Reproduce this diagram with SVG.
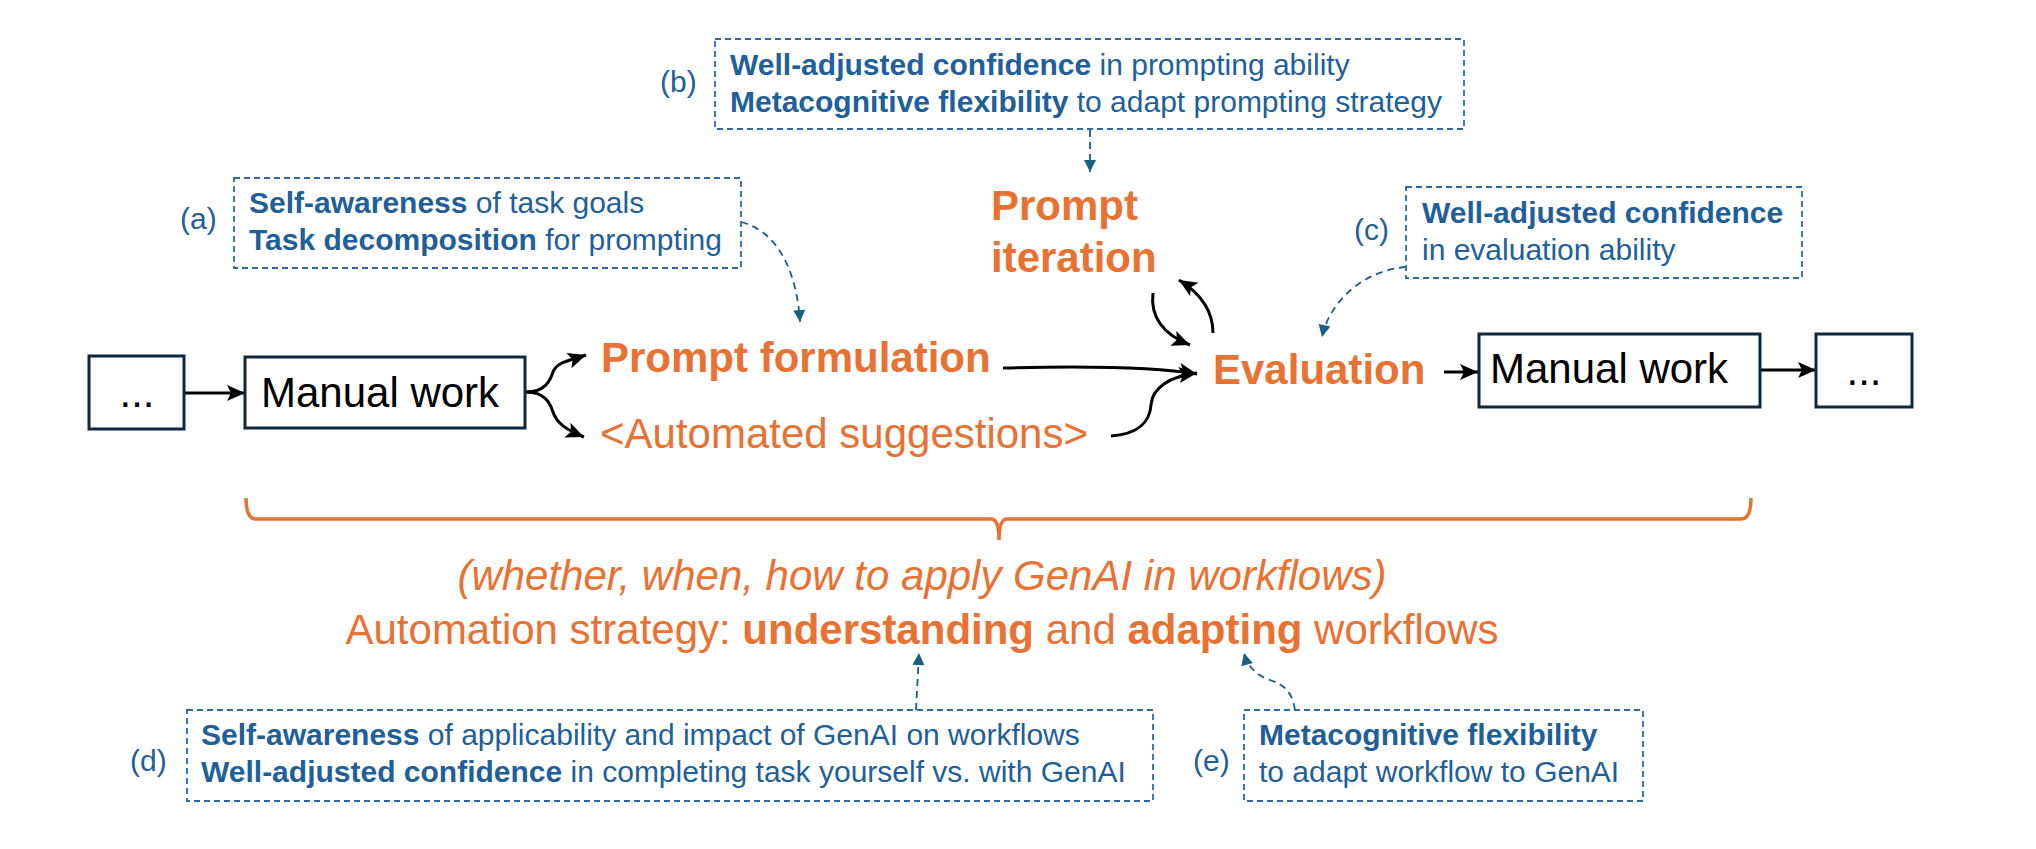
<svg xmlns="http://www.w3.org/2000/svg" width="2036" height="849" viewBox="0 0 2036 849">
<style>
text{font-family:"Liberation Sans",Arial,sans-serif;}
.or{fill:#E97132;}
.hd{font-size:42px;font-weight:bold;}
.big{font-size:42px;}
.bl{fill:#215F9A;font-size:30px;}
.b{font-weight:bold;}
.blk{fill:#000;font-size:42px;}
.box{fill:#fff;stroke:#0E2841;stroke-width:3;}
.dbox{fill:none;stroke:#2A6AA6;stroke-width:1.8;stroke-dasharray:6 4;}
.arr{fill:none;stroke:#000;stroke-width:3;marker-end:url(#ah);}
.darr{fill:none;stroke:#1B5E84;stroke-width:1.8;stroke-dasharray:7 5;marker-end:url(#dh);}
.brace{fill:none;stroke:#E97132;stroke-width:3.5;}
</style>
<defs>
<marker id="ah" markerUnits="userSpaceOnUse" markerWidth="20" markerHeight="20" viewBox="0 0 20 20" refX="19" refY="10" orient="auto"><path d="M1,2 L19,10 L1,18 L5,10 Z" fill="#000"/></marker>
<marker id="dh" markerUnits="userSpaceOnUse" markerWidth="14" markerHeight="14" viewBox="0 0 14 14" refX="13" refY="7" orient="auto"><path d="M1,1 L13,7 L1,13 Z" fill="#1B5E84"/></marker>
</defs>
<rect width="2036" height="849" fill="#fff"/>

<g id="connectors">
<path class="arr" d="M184,393 L245,393"/>
<path class="arr" d="M526,392 C545,392 550,381 553,372 C557,362 568,361 586,355"/>
<path class="arr" d="M526,392 C545,392 550,403 553,412 C557,424 567,430 584,437"/>
<path class="arr" d="M1003,368 C1080,366 1150,366 1197,374"/>
<path class="arr" d="M1111,436 C1140,434 1150,420 1151,405 C1152,388 1170,376 1197,373"/>
<path class="arr" d="M1153,293 C1150,318 1165,335 1190,345"/>
<path class="arr" d="M1213,333 C1213,310 1200,293 1179,280"/>
<path class="arr" d="M1444,372 L1478,372"/>
<path class="arr" d="M1760,370 L1816,370"/>
<path class="darr" d="M741,222 C780,232 797,275 800,322"/>
<path class="darr" d="M1090,130 L1090,172"/>
<path class="darr" d="M1406,267 C1365,270 1330,300 1322,337"/>
<path class="darr" d="M916,710 L919,653"/>
<path class="darr" d="M1295,710 C1292,692 1285,685 1270,680 C1258,676 1248,668 1244,653"/>
</g>

<g id="start">
<rect class="box" x="89" y="356" width="95" height="73"/>
<text class="blk" x="137" y="407" text-anchor="middle">...</text>
</g>
<g id="manual1">
<rect class="box" x="245" y="357" width="280" height="71"/>
<text class="blk" x="261" y="407">Manual work</text>
</g>
<g id="formulation">
<text class="or hd" x="601" y="372">Prompt formulation</text>
</g>
<g id="suggestions">
<text class="or big" x="600" y="448">&lt;Automated suggestions&gt;</text>
</g>
<g id="iteration">
<text class="or hd" x="991" y="220">Prompt</text>
<text class="or hd" x="991" y="272">iteration</text>
</g>
<g id="evaluation">
<text class="or hd" x="1213" y="384">Evaluation</text>
</g>
<g id="manual2">
<rect class="box" x="1479" y="334" width="281" height="73"/>
<text class="blk" x="1490" y="383">Manual work</text>
</g>
<g id="end">
<rect class="box" x="1816" y="334" width="96" height="73"/>
<text class="blk" x="1864" y="385" text-anchor="middle">...</text>
</g>

<g id="note-a">
<rect class="dbox" x="234" y="178" width="507" height="90"/>
<text class="bl" x="180" y="229">(a)</text>
<text class="bl" x="249" y="213"><tspan class="b">Self-awareness</tspan> of task goals</text>
<text class="bl" x="249" y="250"><tspan class="b">Task decomposition</tspan> for prompting</text>
</g>
<g id="note-b">
<rect class="dbox" x="715" y="39" width="749" height="90"/>
<text class="bl" x="660" y="92">(b)</text>
<text class="bl" x="730" y="75"><tspan class="b">Well-adjusted confidence</tspan> in prompting ability</text>
<text class="bl" x="730" y="112"><tspan class="b">Metacognitive flexibility</tspan> to adapt prompting strategy</text>
</g>
<g id="note-c">
<rect class="dbox" x="1406" y="187" width="396" height="91"/>
<text class="bl" x="1354" y="240">(c)</text>
<text class="bl b" x="1422" y="223">Well-adjusted confidence</text>
<text class="bl" x="1422" y="260">in evaluation ability</text>
</g>

<g id="strategy">
<path class="brace" d="M246,498 Q246,519 256,519 L991,519 Q999,519 999,540 Q999,519 1007,519 L1741,519 Q1751,519 1751,498"/>
<text class="or big" x="922" y="590" text-anchor="middle" font-style="italic">(whether, when, how to apply GenAI in workflows)</text>
<text class="or big" x="922" y="644" text-anchor="middle">Automation strategy: <tspan class="b">understanding</tspan> and <tspan class="b">adapting</tspan> workflows</text>
</g>

<g id="note-d">
<rect class="dbox" x="187" y="710" width="966" height="91"/>
<text class="bl" x="130" y="771">(d)</text>
<text class="bl" x="201" y="745"><tspan class="b">Self-awareness</tspan> of applicability and impact of GenAI on workflows</text>
<text class="bl" x="201" y="782"><tspan class="b">Well-adjusted confidence</tspan> in completing task yourself vs. with GenAI</text>
</g>
<g id="note-e">
<rect class="dbox" x="1244" y="710" width="399" height="91"/>
<text class="bl" x="1193" y="771">(e)</text>
<text class="bl b" x="1259" y="745">Metacognitive flexibility</text>
<text class="bl" x="1259" y="782">to adapt workflow to GenAI</text>
</g>
</svg>
